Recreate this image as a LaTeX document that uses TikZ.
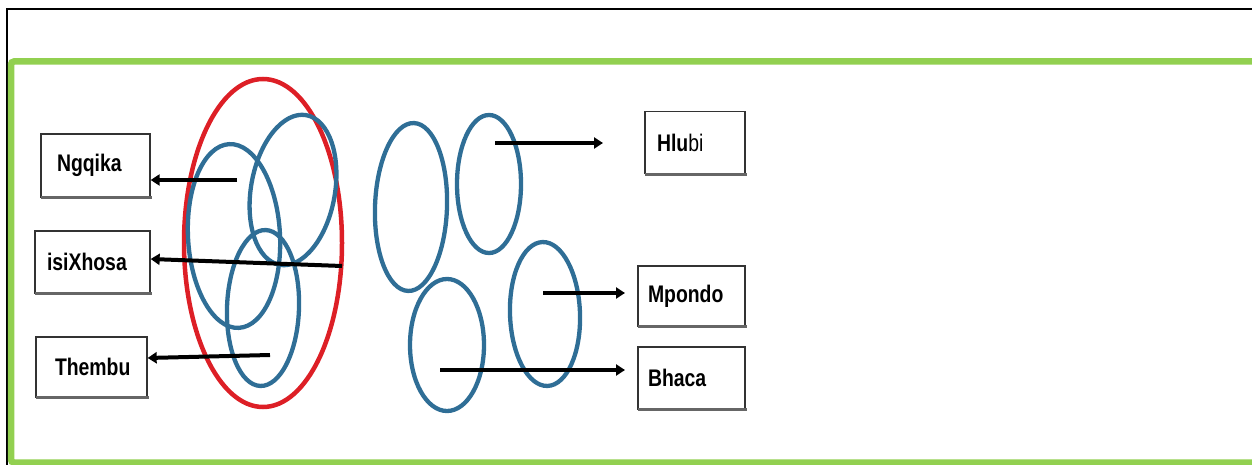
\documentclass[tikz,border=0pt]{standalone}
\usepackage{fontspec}
\setmainfont{Liberation Sans}
\usetikzlibrary{shapes.geometric,arrows.meta}
\definecolor{frgreen}{HTML}{92D050}
\definecolor{ovblue}{HTML}{2F6E96}
\definecolor{ovred}{HTML}{DD1F26}
\newcommand\tallword[1]{\scalebox{0.97}[1.2]{#1}}
\tikzset{
  lbl/.style={draw=black!80, line width=1.3pt, fill=white, inner ysep=0pt,
    align=left, font=\fontsize{20pt}{24pt}\selectfont\bfseries},
  blueov/.style={ellipse, draw=ovblue, line width=4.3pt, inner sep=0pt},
  redov/.style={ellipse, draw=ovred, line width=4.5pt, inner sep=0pt},
  arr/.style={line width=4pt, -{Triangle[length=9pt,width=11pt]}},
  shad/.style={draw=black!60, line width=3pt}
}
\begin{document}
\begin{tikzpicture}[x=1pt,y=-1pt]
\useasboundingbox (0,0) rectangle (1252,465);
% frames
\draw[line width=2pt] (7,470) -- (7,9) -- (1260,9);
\draw[frgreen, line width=6.5pt, rounded corners=3pt] (1260,61.5) -- (11,61.5) -- (11,462.5) -- (1260,462.5);
% red oval
\node[redov, minimum width=158pt, minimum height=328pt] (red) at (263,243) {};
% blue ovals left cluster
\node[blueov, minimum width=92pt, minimum height=184pt, rotate=3] (e1) at (234,236) {};
\node[blueov, minimum width=84pt, minimum height=152pt, rotate=-10] (e2) at (293,190) {};
\node[blueov, minimum width=72pt, minimum height=156pt, rotate=-2] (e3) at (263,308) {};
% blue ovals right cluster
\node[blueov, minimum width=72pt, minimum height=168pt, rotate=-2] (e4) at (411,207) {};
\node[blueov, minimum width=64pt, minimum height=138pt] (e5) at (489,184) {};
\node[blueov, minimum width=74pt, minimum height=132pt] (e6) at (447,345) {};
\node[blueov, minimum width=70pt, minimum height=144pt, rotate=2] (e7) at (545,314) {};
% label boxes
\node[lbl, inner xsep=16pt, text width=77pt, minimum height=63pt] (ngq) at (95.5,165.5) {\tallword{Ngqika}};
\node[lbl, inner xsep=12pt, text width=91pt, minimum height=62pt] (ixh) at (92.5,262) {\tallword{isiXhosa}};
\node[lbl, inner xsep=19pt, text width=73pt, minimum height=60pt] (thb) at (91.5,367) {\tallword{Thembu}};
\node[lbl, inner xsep=12pt, text width=76pt, minimum height=62pt] (hlb) at (695,142.5) {\tallword{Hlu\mdseries bi}};
\node[lbl, inner xsep=10pt, text width=87pt, minimum height=60pt] (mpd) at (691.5,296) {\tallword{Mpondo}};
\node[lbl, inner xsep=10pt, text width=87pt, minimum height=62pt] (bhc) at (691.5,378) {\tallword{Bhaca}};
\foreach \b in {ngq,ixh,thb,hlb,mpd,bhc}{
  \draw[shad] ([xshift=1pt]\b.south west) -- ([xshift=1pt]\b.south east);
}
% arrow starts and free ends
\coordinate (s1) at (237,180);
\coordinate (s2) at (342,266);
\coordinate (s3) at (270,355);
\coordinate (s4) at (495,143);
\coordinate (t4) at (603,143);
\coordinate (s5) at (543,293);
\coordinate (t5) at (625,293);
\coordinate (s6) at (440,370);
\coordinate (t6) at (625,370);
\draw[arr] (s1) -- (s1 -| ngq.east);
\draw[arr] (s2) -- ([yshift=3pt]ixh.east);
\draw[arr] (s3) -- ([yshift=9pt]thb.east);
\draw[arr] (s4) -- (t4);
\draw[arr] (s5) -- (t5);
\draw[arr] (s6) -- (t6);
\end{tikzpicture}
\end{document}
